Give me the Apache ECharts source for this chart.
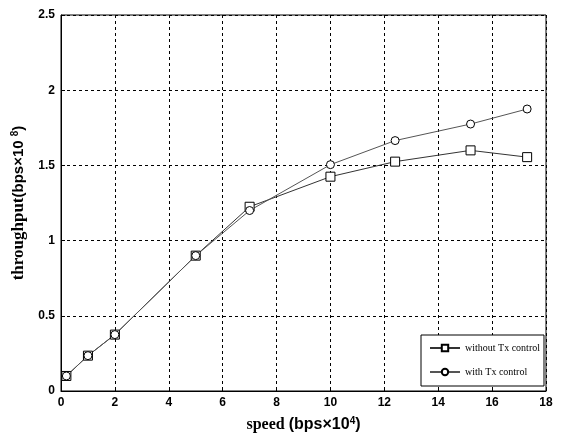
<!DOCTYPE html>
<html>
<head>
<meta charset="utf-8">
<script src="https://cdn.jsdelivr.net/npm/echarts@6/dist/echarts.min.js"></script>
<style>
  html, body { margin: 0; padding: 0; background: #fff; }
  #chart { width: 562px; height: 441px; }
</style>
</head>
<body>
<div id="chart"></div>
<script>
// speed (bps x 10^4) vs throughput (bps x 10^8)
var speedNoCtrl = [0.2, 1, 2, 5, 7, 10, 12.4, 15.2, 17.3];
var thrNoCtrl = [0.1, 0.235, 0.375, 0.9, 1.225, 1.425, 1.525, 1.6, 1.555];
var speedCtrl = [0.2, 1, 2, 5, 7, 10, 12.4, 15.2, 17.3];
var thrCtrl = [0.1, 0.235, 0.375, 0.9, 1.2, 1.505, 1.665, 1.775, 1.875];
var seriesNames = ["without Tx control", "with Tx control"];

function pairs(xs, ys) {
  var out = [];
  for (var i = 0; i < xs.length; i++) out.push([xs[i], ys[i]]);
  return out;
}

var tickFont = {
  color: "#000",
  fontWeight: "bold",
  fontSize: 12,
  fontFamily: "'Liberation Sans Narrow', 'Arial Narrow', 'Liberation Sans', sans-serif"
};

var chart = echarts.init(document.getElementById("chart"));
chart.setOption({
  animation: false,
  backgroundColor: "#fff",
  grid: {
    left: 61,
    right: 16,
    top: 15,
    bottom: 50,
    show: true,
    borderColor: "#000",
    borderWidth: 1
  },
  legend: {
    left: 421,
    top: 335,
    orient: "vertical",
    backgroundColor: "#fff",
    borderColor: "#000",
    borderWidth: 1,
    padding: [8, 4, 9, 8],
    itemGap: 14,
    itemWidth: 30,
    itemHeight: 8,
    data: seriesNames,
    textStyle: {
      color: "#000",
      fontSize: 10,
      fontFamily: "'Liberation Serif', 'Times New Roman', serif"
    }
  },
  xAxis: {
    type: "value",
    min: 0,
    max: 18,
    interval: 2,
    name: "{s|speed }{p|(bps×10}{sup|4}{p|)}",
    nameLocation: "middle",
    nameGap: 25,
    nameTextStyle: {
      rich: {
        s: { fontSize: 16, fontWeight: "bold", fontFamily: "'Liberation Serif', serif", color: "#000" },
        p: { fontSize: 16, fontWeight: "bold", fontFamily: "'Liberation Sans', sans-serif", color: "#000" },
        sup: { fontSize: 10, fontWeight: "bold", fontFamily: "'Liberation Sans', sans-serif", color: "#000", verticalAlign: "top", padding: [0, 0, 8, 0] }
      }
    },
    axisLine: { lineStyle: { color: "#000", width: 1 } },
    axisTick: { inside: true, length: 4, lineStyle: { color: "#000" } },
    axisLabel: Object.assign({ margin: 6 }, tickFont),
    splitLine: { show: true, lineStyle: { color: "#000", type: [3, 3], width: 1 } }
  },
  yAxis: {
    type: "value",
    min: 0,
    max: 2.5,
    interval: 0.5,
    name: "{s|throughput}{p|(bps×10 }{sup|8}{p|)}",
    nameLocation: "middle",
    nameGap: 28,
    nameTextStyle: {
      rich: {
        s: { fontSize: 17, fontWeight: "bold", fontFamily: "'Liberation Serif', serif", color: "#000" },
        p: { fontSize: 15, fontWeight: "bold", fontFamily: "'Liberation Sans', sans-serif", color: "#000" },
        sup: { fontSize: 10, fontWeight: "bold", fontFamily: "'Liberation Sans', sans-serif", color: "#000", verticalAlign: "top", padding: [0, 0, 8, 0] }
      }
    },
    axisLine: { show: true, lineStyle: { color: "#000", width: 1 } },
    axisTick: { show: true, inside: true, length: 4, lineStyle: { color: "#000" } },
    axisLabel: Object.assign({ margin: 6 }, tickFont),
    splitLine: { show: true, lineStyle: { color: "#000", type: [3, 3], width: 1 } }
  },
  series: [
    {
      name: seriesNames[0],
      type: "line",
      data: pairs(speedNoCtrl, thrNoCtrl),
      symbol: "rect",
      symbolSize: 9,
      showAllSymbol: true,
      lineStyle: { color: "#333", width: 1 },
      itemStyle: { color: "#fff", borderColor: "#000", borderWidth: 1 }
    },
    {
      name: seriesNames[1],
      type: "line",
      data: pairs(speedCtrl, thrCtrl),
      symbol: "circle",
      symbolSize: 8,
      showAllSymbol: true,
      lineStyle: { color: "#555", width: 1 },
      itemStyle: { color: "#fff", borderColor: "#000", borderWidth: 1 }
    }
  ]
});
</script>
</body>
</html>
